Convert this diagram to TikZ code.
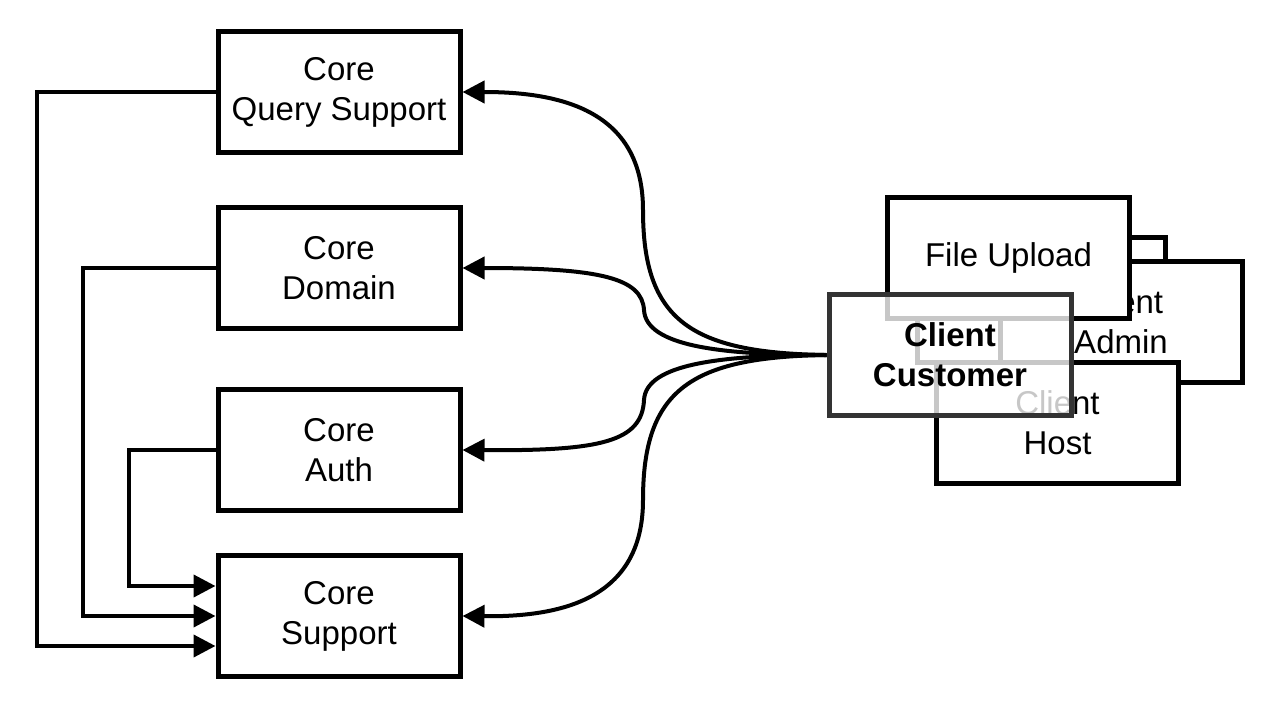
\documentclass[tikz,border=0pt]{standalone}
\usepackage{fontspec}
\setmainfont{Liberation Sans}
\usetikzlibrary{arrows.meta, positioning}
\definecolor{custgray}{RGB}{51,51,51}
\tikzset{
  comp/.style={draw, line width=5pt, fill=white, minimum width=242pt, minimum height=121pt,
    align=center, inner sep=0pt, font=\fontsize{33}{40}\selectfont},
  flow/.style={line width=4pt, -{Triangle[length=22pt, width=22pt]}},
}

\begin{document}
\begin{tikzpicture}[x=1pt, y=-1pt]
  \useasboundingbox (0,0) rectangle (1278,712);

  % core modules
  \node[comp] (query) at (339, 92) {Core\\Query Support};
  \node[comp] (domain) at (339, 268) {Core\\Domain};
  \node[comp] (auth) at (339, 450) {Core\\Auth};
  \node[comp] (support) at (339, 616) {Core\\Support};

  % client modules, stacked
  \node[comp, minimum width=248pt, minimum height=125pt] (hidden) at (1041, 299.5) {};
  \node[comp] (admin) at (1121, 322) {Client\\Admin};
  \node[comp] (host) at (1057.5, 422.5) {Client\\Host};
  \node[comp] (upload) at (1008.5, 258) {File Upload};
  \node[comp, draw=custgray, fill opacity=0.78, text opacity=1, font=\fontsize{33}{40}\selectfont\bfseries] (cust) at (950, 355) {Client\\Customer};

  \coordinate (kq) at (643, 210);
  \coordinate (kd) at (644, 310);
  \coordinate (ka) at (644, 400);
  \coordinate (ks) at (643, 500);

  \draw[flow] (cust.west) .. controls (690,353) and (643,320) .. (kq) .. controls (643,110) and (560,92) .. (query.east);
  \draw[flow] (cust.west) .. controls (720,355) and (646,346) .. (kd) .. controls (642,278) and (600,268) .. (domain.east);
  \draw[flow] (cust.west) .. controls (720,355) and (646,364) .. (ka) .. controls (642,442) and (600,451) .. (auth.east);
  \draw[flow] (cust.west) .. controls (690,357) and (643,390) .. (ks) .. controls (643,600) and (560,617) .. (support.east);

  \draw[flow] (query.west) -- ++(-179,0) |- ([yshift=-30pt]support.west);
  \draw[flow] (domain.west) -- ++(-133,0) |- (support.west);
  \draw[flow] (auth.west) -- ++(-87,0) |- ([yshift=30pt]support.west);
\end{tikzpicture}
\end{document}
